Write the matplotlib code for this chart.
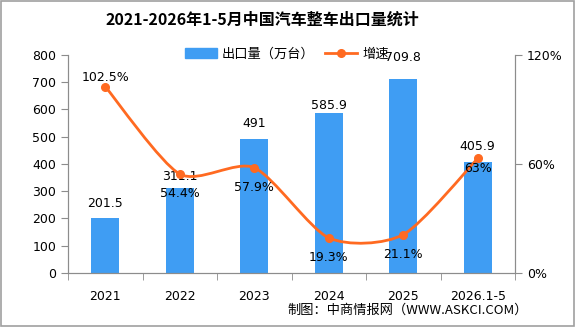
import matplotlib
matplotlib.use('Agg')
import matplotlib.pyplot as plt
from matplotlib.path import Path
from matplotlib.patches import PathPatch, Rectangle
from matplotlib.lines import Line2D
import numpy as np

plt.rcParams['font.family'] = ['DejaVu Sans', 'Noto Sans CJK SC']

years = ['2021', '2022', '2023', '2024', '2025', '2026.1-5']
exports = [201.5, 311.1, 491, 585.9, 709.8, 405.9]
growth = [102.5, 54.4, 57.9, 19.3, 21.1, 63]
growth_labels = ['102.5%', '54.4%', '57.9%', '19.3%', '21.1%', '63%']

bar_color = '#3F9DF3'
line_color = '#FF6A21'
axis_color = '#8C8C8C'

# label offsets in pixels (label placement only)
bar_off = [15, 12, 16, 8, 22, 16]
pct_off = [9, -19, -20, -20, -20, -10]

fig = plt.figure(figsize=(5.76, 3.27), dpi=100)
ax = fig.add_axes([68 / 576, 1 - 273 / 327, (515 - 68) / 576, (273 - 54.7) / 327])
ax2 = ax.twinx()

x = np.arange(len(years))
ax.bar(x, exports, width=0.37, color=bar_color, zorder=2)
ax.set_xlim(-0.5, len(years) - 0.5)
ax.set_ylim(0, 800)
ax.set_yticks(range(0, 801, 100))
ax.set_xticks(x)
ax.set_xticklabels(years, fontsize=9)
ax.set_xticks(np.arange(-0.5, len(years), 1), minor=True)
ax.tick_params(axis='x', which='major', length=0, pad=12)
ax.tick_params(axis='x', which='minor', length=5, color=axis_color, direction='out')
ax.tick_params(axis='y', length=5, color=axis_color, labelsize=9)

ax2.set_ylim(0, 120)
ax2.set_yticks([0, 60, 120])
ax2.set_yticklabels(['0%', '60%', '120%'])
ax2.tick_params(axis='y', length=5, color=axis_color, labelsize=9)

for a in (ax, ax2):
    a.spines['top'].set_visible(False)
    for s in ('left', 'right', 'bottom'):
        a.spines[s].set_color(axis_color)

# smooth line like the original chart (bezier through the points)
pts = np.column_stack([x, growth]).astype(float)
verts = [tuple(pts[0])]
codes = [Path.MOVETO]
n = len(pts)
k = 1 / 8
for i in range(n - 1):
    p0 = pts[i - 1] if i > 0 else pts[i]
    p1 = pts[i]
    p2 = pts[i + 1]
    p3 = pts[i + 2] if i + 2 < n else pts[i + 1]
    c1 = p1 + (p2 - p0) * k
    c2 = p2 - (p3 - p1) * k
    verts += [tuple(c1), tuple(c2), tuple(p2)]
    codes += [Path.CURVE4] * 3
ax2.add_patch(PathPatch(Path(verts, codes), fill=False, edgecolor=line_color, lw=2.0, zorder=3))
ax2.plot(x, growth, linestyle='none', marker='o', markersize=5.5, color=line_color, zorder=4)

for xi, v, off in zip(x, exports, bar_off):
    ax.annotate(f'{v:g}', (xi, v), xytext=(0, off), textcoords='offset pixels',
                ha='center', va='center', fontsize=9, zorder=5)
for xi, v, lab, off in zip(x, growth, growth_labels, pct_off):
    ax2.annotate(lab, (xi, v), xytext=(0, off), textcoords='offset pixels',
                 ha='center', va='center', fontsize=9, zorder=5)

handles = [Rectangle((0, 0), 1, 1, color=bar_color),
           Line2D([0], [0], color=line_color, lw=2.0, marker='o', markersize=5.5)]
fig.legend(handles, ['出口量（万台）', '增速'], loc='center', ncol=2,
           bbox_to_anchor=(287 / 576, 1 - 54 / 327), frameon=False, fontsize=9.5,
           handlelength=2.4, handletextpad=0.4, columnspacing=0.8)

fig.text(262 / 576, 1 - 20 / 327, '2021-2026年1-5月中国汽车整车出口量统计',
         ha='center', va='center', fontsize=11.5, fontweight='bold',
         family=['Noto Sans CJK SC', 'DejaVu Sans'])
fig.text(528 / 576, 1 - 310 / 327, '制图：中商情报网（WWW.ASKCI.COM）',
         ha='right', va='center', fontsize=9.5,
         family=['Noto Sans CJK SC', 'DejaVu Sans'])

fig.patches.append(Rectangle((0.001, 0.004), 0.996, 0.994, transform=fig.transFigure,
                             fill=False, edgecolor='#A0A0A0', lw=1.2))

fig.savefig('out.png', dpi=100)
